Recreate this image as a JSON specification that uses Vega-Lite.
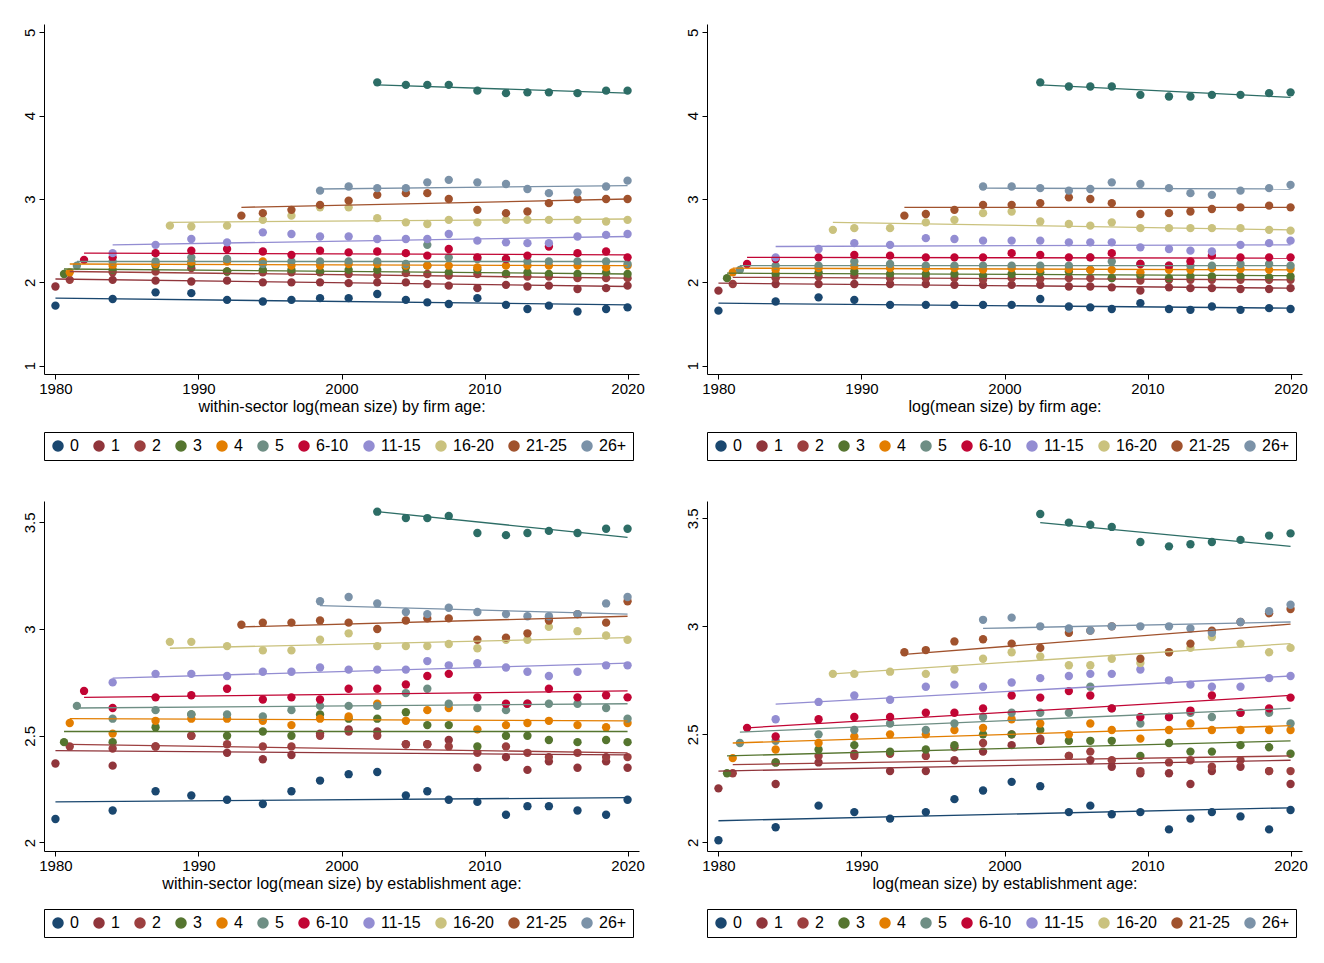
{
  "$schema": "https://vega.github.io/schema/vega-lite/v6.json",
  "background": "white",
  "padding": {"left": 22, "top": 24, "right": 10, "bottom": 5},
  "config": {
    "view": {"stroke": null},
    "font": "Liberation Sans",
    "axis": {"grid": false, "labelFontSize": 15, "titleFontSize": 16, "titleFontWeight": "normal", "domainColor": "black", "tickColor": "black", "labelColor": "black", "titleColor": "black"},
    "legend": {"orient": "bottom", "direction": "horizontal", "columns": 11, "symbolType": "circle", "symbolSize": 100, "labelFontSize": 16, "strokeColor": "black", "padding": 6, "offset": 18, "columnPadding": 12, "title": null},
    "concat": {"spacing": 40}
  },
  "datasets": {
    "yrs": [
      {"s": "0", "x": [1980,1984,1987,1989.5,1992,1994.5,1996.5,1998.5,2000.5,2002.5,2004.5,2006,2007.5,2009.5,2011.5,2013,2014.5,2016.5,2018.5,2020]},
      {"s": "1", "x": [1980,1984,1987,1989.5,1992,1994.5,1996.5,1998.5,2000.5,2002.5,2004.5,2006,2007.5,2009.5,2011.5,2013,2014.5,2016.5,2018.5,2020]},
      {"s": "2", "x": [1981,1984,1987,1989.5,1992,1994.5,1996.5,1998.5,2000.5,2002.5,2004.5,2006,2007.5,2009.5,2011.5,2013,2014.5,2016.5,2018.5,2020]},
      {"s": "3", "x": [1980.6,1984,1987,1989.5,1992,1994.5,1996.5,1998.5,2000.5,2002.5,2004.5,2006,2007.5,2009.5,2011.5,2013,2014.5,2016.5,2018.5,2020]},
      {"s": "4", "x": [1981,1984,1987,1989.5,1992,1994.5,1996.5,1998.5,2000.5,2002.5,2004.5,2006,2007.5,2009.5,2011.5,2013,2014.5,2016.5,2018.5,2020]},
      {"s": "5", "x": [1981.5,1984,1987,1989.5,1992,1994.5,1996.5,1998.5,2000.5,2002.5,2004.5,2006,2007.5,2009.5,2011.5,2013,2014.5,2016.5,2018.5,2020]},
      {"s": "6-10", "x": [1982,1984,1987,1989.5,1992,1994.5,1996.5,1998.5,2000.5,2002.5,2004.5,2006,2007.5,2009.5,2011.5,2013,2014.5,2016.5,2018.5,2020]},
      {"s": "11-15", "x": [1984,1987,1989.5,1992,1994.5,1996.5,1998.5,2000.5,2002.5,2004.5,2006,2007.5,2009.5,2011.5,2013,2014.5,2016.5,2018.5,2020]},
      {"s": "16-20", "x": [1988,1989.5,1992,1994.5,1996.5,1998.5,2000.5,2002.5,2004.5,2006,2007.5,2009.5,2011.5,2013,2014.5,2016.5,2018.5,2020]},
      {"s": "21-25", "x": [1993,1994.5,1996.5,1998.5,2000.5,2002.5,2004.5,2006,2007.5,2009.5,2011.5,2013,2014.5,2016.5,2018.5,2020]},
      {"s": "26+", "x": [1998.5,2000.5,2002.5,2004.5,2006,2007.5,2009.5,2011.5,2013,2014.5,2016.5,2018.5,2020]},
      {"s": "all", "x": [2002.5,2004.5,2006,2007.5,2009.5,2011.5,2013,2014.5,2016.5,2018.5,2020]}
    ],
    "pts": [
      {"p": "A", "s": "0", "y": [1.72,1.8,1.88,1.87,1.79,1.77,1.79,1.81,1.81,1.86,1.79,1.76,1.74,1.81,1.73,1.68,1.72,1.65,1.68,1.7]},
      {"p": "A", "s": "1", "y": [1.95,2.03,2.02,2.01,2.02,2.0,2.0,2.0,1.99,2.0,2.0,1.98,1.96,1.93,1.97,1.95,1.96,1.92,1.93,1.96]},
      {"p": "A", "s": "2", "y": [2.03,2.12,2.13,2.17,2.13,2.12,2.12,2.12,2.1,2.09,2.11,2.1,2.08,2.1,2.1,2.07,2.07,2.05,2.05,2.05]},
      {"p": "A", "s": "3", "y": [2.1,2.15,2.2,2.22,2.13,2.15,2.15,2.13,2.15,2.15,2.18,2.2,2.12,2.15,2.1,2.12,2.1,2.1,2.12,2.1]},
      {"p": "A", "s": "4", "y": [2.12,2.2,2.22,2.25,2.25,2.25,2.2,2.2,2.22,2.22,2.2,2.2,2.2,2.18,2.2,2.2,2.2,2.2,2.18,2.2]},
      {"p": "A", "s": "5", "y": [2.2,2.25,2.25,2.3,2.28,2.22,2.25,2.25,2.25,2.25,2.22,2.45,2.3,2.28,2.28,2.25,2.25,2.25,2.25,2.22]},
      {"p": "A", "s": "6-10", "y": [2.27,2.3,2.35,2.38,2.4,2.37,2.33,2.38,2.36,2.37,2.35,2.32,2.4,2.3,2.28,2.32,2.43,2.35,2.37,2.3]},
      {"p": "A", "s": "11-15", "y": [2.35,2.45,2.52,2.48,2.6,2.58,2.55,2.55,2.52,2.52,2.52,2.58,2.5,2.48,2.47,2.47,2.55,2.57,2.58]},
      {"p": "A", "s": "16-20", "y": [2.68,2.67,2.68,2.75,2.8,2.9,2.9,2.77,2.72,2.7,2.75,2.72,2.75,2.75,2.75,2.75,2.73,2.75]},
      {"p": "A", "s": "21-25", "y": [2.8,2.83,2.87,2.93,2.98,3.05,3.07,3.07,3.0,2.87,2.83,2.85,2.95,3.0,3.0,3.0]},
      {"p": "A", "s": "26+", "y": [3.1,3.15,3.13,3.13,3.2,3.23,3.2,3.18,3.12,3.07,3.08,3.15,3.22]},
      {"p": "A", "s": "all", "y": [4.4,4.37,4.37,4.37,4.3,4.27,4.28,4.28,4.27,4.3,4.3]},
      {"p": "B", "s": "0", "y": [1.66,1.77,1.82,1.79,1.73,1.73,1.73,1.73,1.73,1.8,1.71,1.7,1.68,1.75,1.68,1.67,1.71,1.67,1.69,1.68]},
      {"p": "B", "s": "1", "y": [1.9,1.98,1.98,1.98,1.98,1.98,1.97,1.97,1.97,1.97,1.95,1.95,1.94,1.9,1.94,1.93,1.93,1.92,1.92,1.93]},
      {"p": "B", "s": "2", "y": [1.98,2.05,2.07,2.08,2.05,2.05,2.05,2.03,2.05,2.04,2.05,2.05,2.05,2.02,2.03,2.03,2.03,2.03,2.03,2.03]},
      {"p": "B", "s": "3", "y": [2.05,2.1,2.12,2.13,2.1,2.1,2.1,2.08,2.1,2.12,2.13,2.15,2.05,2.08,2.05,2.07,2.07,2.07,2.06,2.07]},
      {"p": "B", "s": "4", "y": [2.12,2.15,2.17,2.2,2.17,2.17,2.17,2.15,2.17,2.16,2.16,2.15,2.15,2.12,2.15,2.15,2.17,2.16,2.15,2.16]},
      {"p": "B", "s": "5", "y": [2.15,2.2,2.2,2.25,2.22,2.2,2.2,2.2,2.2,2.2,2.2,2.3,2.25,2.22,2.2,2.2,2.2,2.22,2.22,2.2]},
      {"p": "B", "s": "6-10", "y": [2.22,2.28,2.3,2.33,2.32,2.3,2.3,2.3,2.35,2.33,2.3,2.3,2.35,2.22,2.2,2.25,2.32,2.3,2.3,2.3]},
      {"p": "B", "s": "11-15", "y": [2.3,2.4,2.47,2.45,2.53,2.52,2.5,2.5,2.5,2.48,2.48,2.48,2.42,2.4,2.38,2.37,2.45,2.47,2.5]},
      {"p": "B", "s": "16-20", "y": [2.63,2.65,2.65,2.72,2.75,2.83,2.85,2.73,2.7,2.68,2.72,2.65,2.65,2.65,2.65,2.65,2.63,2.62]},
      {"p": "B", "s": "21-25", "y": [2.8,2.82,2.87,2.93,2.93,2.95,3.02,3.0,2.95,2.82,2.83,2.85,2.88,2.9,2.92,2.9]},
      {"p": "B", "s": "26+", "y": [3.15,3.15,3.13,3.1,3.12,3.2,3.18,3.13,3.07,3.05,3.1,3.13,3.17]},
      {"p": "B", "s": "all", "y": [4.4,4.35,4.35,4.35,4.25,4.23,4.23,4.25,4.25,4.27,4.28]},
      {"p": "C", "s": "0", "y": [2.11,2.15,2.24,2.22,2.2,2.18,2.24,2.29,2.32,2.33,2.22,2.24,2.2,2.19,2.13,2.17,2.17,2.15,2.13,2.2]},
      {"p": "C", "s": "1", "y": [2.37,2.36,2.45,2.5,2.42,2.39,2.41,2.51,2.53,2.52,2.46,2.46,2.48,2.35,2.4,2.34,2.38,2.35,2.38,2.35]},
      {"p": "C", "s": "2", "y": [2.45,2.44,2.45,2.5,2.46,2.45,2.45,2.5,2.52,2.5,2.46,2.46,2.45,2.42,2.45,2.42,2.4,2.42,2.4,2.4]},
      {"p": "C", "s": "3", "y": [2.47,2.47,2.54,2.6,2.5,2.52,2.5,2.6,2.58,2.58,2.61,2.55,2.55,2.45,2.5,2.5,2.48,2.47,2.48,2.47]},
      {"p": "C", "s": "4", "y": [2.56,2.51,2.57,2.58,2.58,2.57,2.55,2.58,2.59,2.65,2.57,2.62,2.63,2.53,2.55,2.56,2.57,2.55,2.54,2.56]},
      {"p": "C", "s": "5", "y": [2.64,2.58,2.62,2.6,2.6,2.59,2.62,2.64,2.64,2.64,2.7,2.72,2.65,2.63,2.62,2.65,2.65,2.65,2.63,2.58]},
      {"p": "C", "s": "6-10", "y": [2.71,2.63,2.68,2.69,2.72,2.67,2.68,2.67,2.72,2.72,2.74,2.78,2.79,2.68,2.65,2.65,2.72,2.68,2.69,2.68]},
      {"p": "C", "s": "11-15", "y": [2.75,2.79,2.79,2.78,2.8,2.8,2.82,2.81,2.81,2.81,2.85,2.83,2.84,2.82,2.8,2.78,2.8,2.83,2.83]},
      {"p": "C", "s": "16-20", "y": [2.94,2.94,2.92,2.9,2.9,2.95,2.98,2.92,2.92,2.92,2.93,2.91,2.95,2.95,3.01,2.99,2.97,2.95]},
      {"p": "C", "s": "21-25", "y": [3.02,3.03,3.03,3.04,3.03,3.0,3.04,3.05,3.05,2.95,2.96,2.98,3.04,3.07,3.03,3.13]},
      {"p": "C", "s": "26+", "y": [3.13,3.15,3.12,3.08,3.07,3.1,3.08,3.07,3.06,3.06,3.07,3.12,3.15]},
      {"p": "C", "s": "all", "y": [3.55,3.52,3.52,3.53,3.45,3.44,3.45,3.46,3.45,3.47,3.47]},
      {"p": "D", "s": "0", "y": [2.01,2.07,2.17,2.14,2.11,2.14,2.2,2.24,2.28,2.26,2.14,2.17,2.13,2.14,2.06,2.11,2.14,2.12,2.06,2.15]},
      {"p": "D", "s": "1", "y": [2.25,2.27,2.37,2.41,2.33,2.33,2.38,2.42,2.45,2.47,2.4,2.38,2.35,2.32,2.32,2.27,2.33,2.35,2.33,2.27]},
      {"p": "D", "s": "2", "y": [2.32,2.37,2.4,2.4,2.41,2.4,2.44,2.46,2.5,2.48,2.4,2.42,2.38,2.33,2.37,2.38,2.35,2.38,2.33,2.33]},
      {"p": "D", "s": "3", "y": [2.32,2.37,2.43,2.45,2.42,2.43,2.45,2.5,2.5,2.52,2.47,2.47,2.47,2.4,2.46,2.42,2.42,2.45,2.44,2.41]},
      {"p": "D", "s": "4", "y": [2.39,2.43,2.46,2.49,2.5,2.5,2.52,2.53,2.57,2.55,2.5,2.55,2.52,2.48,2.52,2.55,2.52,2.52,2.52,2.52]},
      {"p": "D", "s": "5", "y": [2.46,2.47,2.5,2.52,2.55,2.52,2.55,2.58,2.6,2.6,2.6,2.72,2.62,2.55,2.58,2.6,2.58,2.6,2.6,2.55]},
      {"p": "D", "s": "6-10", "y": [2.53,2.49,2.57,2.58,2.58,2.6,2.6,2.62,2.68,2.67,2.7,2.68,2.62,2.58,2.58,2.61,2.68,2.6,2.62,2.67]},
      {"p": "D", "s": "11-15", "y": [2.57,2.65,2.68,2.66,2.72,2.73,2.72,2.74,2.76,2.77,2.78,2.78,2.8,2.75,2.73,2.72,2.72,2.76,2.77]},
      {"p": "D", "s": "16-20", "y": [2.78,2.78,2.79,2.78,2.8,2.85,2.88,2.86,2.82,2.82,2.85,2.83,2.88,2.9,2.95,2.92,2.88,2.9]},
      {"p": "D", "s": "21-25", "y": [2.88,2.89,2.93,2.94,2.92,2.9,2.97,2.98,3.0,2.85,2.88,2.92,2.98,3.02,3.06,3.08]},
      {"p": "D", "s": "26+", "y": [3.03,3.04,3.0,2.99,2.98,3.0,3.0,3.0,2.99,2.97,3.02,3.07,3.1]},
      {"p": "D", "s": "all", "y": [3.52,3.48,3.47,3.46,3.39,3.37,3.38,3.39,3.4,3.42,3.43]}
    ],
    "fits": [
      {"p": "A", "s": "0", "x1": 1980, "y1": 1.81, "y2": 1.73},
      {"p": "A", "s": "1", "x1": 1980, "y1": 2.04, "y2": 1.95},
      {"p": "A", "s": "2", "x1": 1981, "y1": 2.13, "y2": 2.05},
      {"p": "A", "s": "3", "x1": 1980.6, "y1": 2.16, "y2": 2.1},
      {"p": "A", "s": "4", "x1": 1981, "y1": 2.22, "y2": 2.2},
      {"p": "A", "s": "5", "x1": 1981.5, "y1": 2.25, "y2": 2.25},
      {"p": "A", "s": "6-10", "x1": 1982, "y1": 2.35, "y2": 2.33},
      {"p": "A", "s": "11-15", "x1": 1984, "y1": 2.45, "y2": 2.55},
      {"p": "A", "s": "16-20", "x1": 1988, "y1": 2.72, "y2": 2.76},
      {"p": "A", "s": "21-25", "x1": 1993, "y1": 2.9, "y2": 3.0},
      {"p": "A", "s": "26+", "x1": 1998.5, "y1": 3.12, "y2": 3.16},
      {"p": "A", "s": "all", "x1": 2002.5, "y1": 4.37, "y2": 4.27},
      {"p": "B", "s": "0", "x1": 1980, "y1": 1.75, "y2": 1.69},
      {"p": "B", "s": "1", "x1": 1980, "y1": 1.99, "y2": 1.93},
      {"p": "B", "s": "2", "x1": 1981, "y1": 2.06, "y2": 2.03},
      {"p": "B", "s": "3", "x1": 1980.6, "y1": 2.11, "y2": 2.08},
      {"p": "B", "s": "4", "x1": 1981, "y1": 2.17, "y2": 2.15},
      {"p": "B", "s": "5", "x1": 1981.5, "y1": 2.2, "y2": 2.2},
      {"p": "B", "s": "6-10", "x1": 1982, "y1": 2.3, "y2": 2.29},
      {"p": "B", "s": "11-15", "x1": 1984, "y1": 2.43, "y2": 2.45},
      {"p": "B", "s": "16-20", "x1": 1988, "y1": 2.72, "y2": 2.63},
      {"p": "B", "s": "21-25", "x1": 1993, "y1": 2.9, "y2": 2.9},
      {"p": "B", "s": "26+", "x1": 1998.5, "y1": 3.13, "y2": 3.12},
      {"p": "B", "s": "all", "x1": 2002.5, "y1": 4.37, "y2": 4.22},
      {"p": "C", "s": "0", "x1": 1980, "y1": 2.19, "y2": 2.21},
      {"p": "C", "s": "1", "x1": 1980, "y1": 2.43, "y2": 2.41},
      {"p": "C", "s": "2", "x1": 1981, "y1": 2.46, "y2": 2.42},
      {"p": "C", "s": "3", "x1": 1980.6, "y1": 2.52, "y2": 2.52},
      {"p": "C", "s": "4", "x1": 1981, "y1": 2.58, "y2": 2.57},
      {"p": "C", "s": "5", "x1": 1981.5, "y1": 2.63, "y2": 2.65},
      {"p": "C", "s": "6-10", "x1": 1982, "y1": 2.68, "y2": 2.71},
      {"p": "C", "s": "11-15", "x1": 1984, "y1": 2.77, "y2": 2.84},
      {"p": "C", "s": "16-20", "x1": 1988, "y1": 2.91, "y2": 2.96},
      {"p": "C", "s": "21-25", "x1": 1993, "y1": 3.01, "y2": 3.06},
      {"p": "C", "s": "26+", "x1": 1998.5, "y1": 3.11, "y2": 3.07},
      {"p": "C", "s": "all", "x1": 2002.5, "y1": 3.55, "y2": 3.43},
      {"p": "D", "s": "0", "x1": 1980, "y1": 2.1, "y2": 2.16},
      {"p": "D", "s": "1", "x1": 1980, "y1": 2.33, "y2": 2.38},
      {"p": "D", "s": "2", "x1": 1981, "y1": 2.36, "y2": 2.4},
      {"p": "D", "s": "3", "x1": 1980.6, "y1": 2.4, "y2": 2.47},
      {"p": "D", "s": "4", "x1": 1981, "y1": 2.46, "y2": 2.54},
      {"p": "D", "s": "5", "x1": 1981.5, "y1": 2.51, "y2": 2.62},
      {"p": "D", "s": "6-10", "x1": 1982, "y1": 2.53, "y2": 2.68},
      {"p": "D", "s": "11-15", "x1": 1984, "y1": 2.64, "y2": 2.77},
      {"p": "D", "s": "16-20", "x1": 1988, "y1": 2.78, "y2": 2.92},
      {"p": "D", "s": "21-25", "x1": 1993, "y1": 2.87, "y2": 3.01},
      {"p": "D", "s": "26+", "x1": 1998.5, "y1": 2.99, "y2": 3.02},
      {"p": "D", "s": "all", "x1": 2002.5, "y1": 3.48, "y2": 3.37}
    ]
  },
  "vconcat": [
    {
      "hconcat": [
        {
          "width": 595, "height": 350,
          "layer": [
            {
              "data": {"name": "pts"},
              "transform": [{"filter": "datum.p == 'A'"}, {"lookup": "s", "from": {"data": {"name": "yrs"}, "key": "s", "fields": ["x"]}}, {"flatten": ["x", "y"]}],
              "mark": {"type": "circle", "size": 70, "opacity": 1},
              "encoding": {
                "x": {"field": "x", "type": "quantitative", "scale": {"domain": [1979.2, 2020.8], "nice": false}, "axis": {"values": [1980, 1990, 2000, 2010, 2020], "format": "d", "title": "within-sector  log(mean size) by firm age:", "titlePadding": 2}},
                "y": {"field": "y", "type": "quantitative", "scale": {"domain": [0.9, 5.1], "nice": false}, "axis": {"values": [1, 2, 3, 4, 5], "format": "~g", "labelAngle": -90, "labelAlign": "center", "labelBaseline": "bottom", "title": null}},
                "color": {"field": "s", "type": "nominal", "scale": {"domain": ["0","1","2","3","4","5","6-10","11-15","16-20","21-25","26+","all"], "range": ["#1a476f","#90353b","#9c3f3f","#55752f","#e37e00","#6e8e84","#c10534","#938dd2","#cac27e","#a0522d","#7b92a8","#2d6d66"]}, "legend": {"values": ["0","1","2","3","4","5","6-10","11-15","16-20","21-25","26+"]}}
              }
            },
            {
              "data": {"name": "fits"},
              "transform": [{"filter": "datum.p == 'A'"}],
              "mark": {"type": "rule", "strokeWidth": 1.3},
              "encoding": {
                "x": {"field": "x1", "type": "quantitative"},
                "x2": {"datum": 2020},
                "y": {"field": "y1", "type": "quantitative"},
                "y2": {"field": "y2"},
                "color": {"field": "s", "type": "nominal"}
              }
            }
          ]
        },
        {
          "width": 595, "height": 350,
          "layer": [
            {
              "data": {"name": "pts"},
              "transform": [{"filter": "datum.p == 'B'"}, {"lookup": "s", "from": {"data": {"name": "yrs"}, "key": "s", "fields": ["x"]}}, {"flatten": ["x", "y"]}],
              "mark": {"type": "circle", "size": 70, "opacity": 1},
              "encoding": {
                "x": {"field": "x", "type": "quantitative", "scale": {"domain": [1979.2, 2020.8], "nice": false}, "axis": {"values": [1980, 1990, 2000, 2010, 2020], "format": "d", "title": "log(mean size) by firm age:", "titlePadding": 2}},
                "y": {"field": "y", "type": "quantitative", "scale": {"domain": [0.9, 5.1], "nice": false}, "axis": {"values": [1, 2, 3, 4, 5], "format": "~g", "labelAngle": -90, "labelAlign": "center", "labelBaseline": "bottom", "title": null}},
                "color": {"field": "s", "type": "nominal", "scale": {"domain": ["0","1","2","3","4","5","6-10","11-15","16-20","21-25","26+","all"], "range": ["#1a476f","#90353b","#9c3f3f","#55752f","#e37e00","#6e8e84","#c10534","#938dd2","#cac27e","#a0522d","#7b92a8","#2d6d66"]}, "legend": {"values": ["0","1","2","3","4","5","6-10","11-15","16-20","21-25","26+"]}}
              }
            },
            {
              "data": {"name": "fits"},
              "transform": [{"filter": "datum.p == 'B'"}],
              "mark": {"type": "rule", "strokeWidth": 1.3},
              "encoding": {
                "x": {"field": "x1", "type": "quantitative"},
                "x2": {"datum": 2020},
                "y": {"field": "y1", "type": "quantitative"},
                "y2": {"field": "y2"},
                "color": {"field": "s", "type": "nominal"}
              }
            }
          ]
        }
      ],
      "resolve": {"scale": {"color": "independent"}}
    },
    {
      "hconcat": [
        {
          "width": 595, "height": 350,
          "layer": [
            {
              "data": {"name": "pts"},
              "transform": [{"filter": "datum.p == 'C'"}, {"lookup": "s", "from": {"data": {"name": "yrs"}, "key": "s", "fields": ["x"]}}, {"flatten": ["x", "y"]}],
              "mark": {"type": "circle", "size": 70, "opacity": 1},
              "encoding": {
                "x": {"field": "x", "type": "quantitative", "scale": {"domain": [1979.2, 2020.8], "nice": false}, "axis": {"values": [1980, 1990, 2000, 2010, 2020], "format": "d", "title": "within-sector log(mean size) by establishment age:", "titlePadding": 2}},
                "y": {"field": "y", "type": "quantitative", "scale": {"domain": [1.96, 3.6], "nice": false}, "axis": {"values": [2, 2.5, 3, 3.5], "format": "~g", "labelAngle": -90, "labelAlign": "center", "labelBaseline": "bottom", "title": null}},
                "color": {"field": "s", "type": "nominal", "scale": {"domain": ["0","1","2","3","4","5","6-10","11-15","16-20","21-25","26+","all"], "range": ["#1a476f","#90353b","#9c3f3f","#55752f","#e37e00","#6e8e84","#c10534","#938dd2","#cac27e","#a0522d","#7b92a8","#2d6d66"]}, "legend": {"values": ["0","1","2","3","4","5","6-10","11-15","16-20","21-25","26+"]}}
              }
            },
            {
              "data": {"name": "fits"},
              "transform": [{"filter": "datum.p == 'C'"}],
              "mark": {"type": "rule", "strokeWidth": 1.3},
              "encoding": {
                "x": {"field": "x1", "type": "quantitative"},
                "x2": {"datum": 2020},
                "y": {"field": "y1", "type": "quantitative"},
                "y2": {"field": "y2"},
                "color": {"field": "s", "type": "nominal"}
              }
            }
          ]
        },
        {
          "width": 595, "height": 350,
          "layer": [
            {
              "data": {"name": "pts"},
              "transform": [{"filter": "datum.p == 'D'"}, {"lookup": "s", "from": {"data": {"name": "yrs"}, "key": "s", "fields": ["x"]}}, {"flatten": ["x", "y"]}],
              "mark": {"type": "circle", "size": 70, "opacity": 1},
              "encoding": {
                "x": {"field": "x", "type": "quantitative", "scale": {"domain": [1979.2, 2020.8], "nice": false}, "axis": {"values": [1980, 1990, 2000, 2010, 2020], "format": "d", "title": "log(mean size) by establishment age:", "titlePadding": 2}},
                "y": {"field": "y", "type": "quantitative", "scale": {"domain": [1.96, 3.58], "nice": false}, "axis": {"values": [2, 2.5, 3, 3.5], "format": "~g", "labelAngle": -90, "labelAlign": "center", "labelBaseline": "bottom", "title": null}},
                "color": {"field": "s", "type": "nominal", "scale": {"domain": ["0","1","2","3","4","5","6-10","11-15","16-20","21-25","26+","all"], "range": ["#1a476f","#90353b","#9c3f3f","#55752f","#e37e00","#6e8e84","#c10534","#938dd2","#cac27e","#a0522d","#7b92a8","#2d6d66"]}, "legend": {"values": ["0","1","2","3","4","5","6-10","11-15","16-20","21-25","26+"]}}
              }
            },
            {
              "data": {"name": "fits"},
              "transform": [{"filter": "datum.p == 'D'"}],
              "mark": {"type": "rule", "strokeWidth": 1.3},
              "encoding": {
                "x": {"field": "x1", "type": "quantitative"},
                "x2": {"datum": 2020},
                "y": {"field": "y1", "type": "quantitative"},
                "y2": {"field": "y2"},
                "color": {"field": "s", "type": "nominal"}
              }
            }
          ]
        }
      ],
      "resolve": {"scale": {"color": "independent"}}
    }
  ],
  "resolve": {"scale": {"color": "independent"}}
}
